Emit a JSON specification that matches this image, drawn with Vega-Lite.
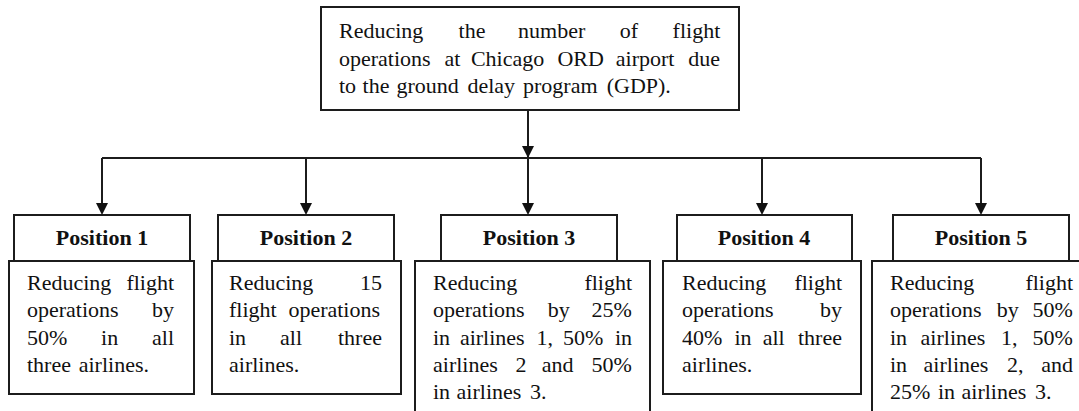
{
  "$schema": "https://vega.github.io/schema/vega-lite/v6.json",
  "width": 1079,
  "height": 411,
  "padding": 0,
  "autosize": {"type": "fit", "contains": "padding"},
  "background": "white",
  "config": {"view": {"stroke": null}},
  "datasets": {
    "links": [
      {"x": 528, "y": 110, "x2": 528, "y2": 158},
      {"x": 102, "y": 158, "x2": 981, "y2": 158},
      {"x": 102, "y": 158, "x2": 102, "y2": 213},
      {"x": 306, "y": 158, "x2": 306, "y2": 213},
      {"x": 528, "y": 158, "x2": 528, "y2": 213},
      {"x": 762, "y": 158, "x2": 762, "y2": 213},
      {"x": 981, "y": 158, "x2": 981, "y2": 213}
    ],
    "arrows": [
      {"x": 528, "y": 158},
      {"x": 102, "y": 215},
      {"x": 306, "y": 215},
      {"x": 528, "y": 215},
      {"x": 762, "y": 215},
      {"x": 981, "y": 215}
    ],
    "boxes": [
      {"name": "goal", "x": 321, "x2": 739, "y": 7, "y2": 110},
      {"name": "body1", "x": 9, "x2": 194, "y": 261, "y2": 394},
      {"name": "body2", "x": 212, "x2": 401, "y": 261, "y2": 394},
      {"name": "body3", "x": 415, "x2": 650, "y": 261, "y2": 425},
      {"name": "body4", "x": 663, "x2": 861, "y": 261, "y2": 394},
      {"name": "body5", "x": 872, "x2": 1092, "y": 261, "y2": 425},
      {"name": "head1", "x": 14, "x2": 190, "y": 215, "y2": 261},
      {"name": "head2", "x": 218, "x2": 394, "y": 215, "y2": 261},
      {"name": "head3", "x": 441, "x2": 617, "y": 215, "y2": 261},
      {"name": "head4", "x": 677, "x2": 852, "y": 215, "y2": 261},
      {"name": "head5", "x": 893, "x2": 1069, "y": 215, "y2": 261}
    ],
    "headers": [
      {"t": "Position 1", "x": 102, "y": 244.5},
      {"t": "Position 2", "x": 306, "y": 244.5},
      {"t": "Position 3", "x": 529, "y": 244.5},
      {"t": "Position 4", "x": 764, "y": 244.5},
      {"t": "Position 5", "x": 981, "y": 244.5}
    ],
    "words": [
      {"t": "Reducing", "x": 339, "y": 38.3},
      {"t": "the", "x": 458.6, "y": 38.3},
      {"t": "number", "x": 518.1, "y": 38.3},
      {"t": "of", "x": 619.8, "y": 38.3},
      {"t": "flight", "x": 672.6, "y": 38.3},
      {"t": "operations", "x": 339, "y": 65.5},
      {"t": "at", "x": 444.6, "y": 65.5},
      {"t": "Chicago", "x": 470.9, "y": 65.5},
      {"t": "ORD", "x": 557.4, "y": 65.5},
      {"t": "airport", "x": 615.8, "y": 65.5},
      {"t": "due", "x": 688.2, "y": 65.5},
      {"t": "to", "x": 339, "y": 92.7},
      {"t": "the", "x": 362.6, "y": 92.7},
      {"t": "ground", "x": 396.5, "y": 92.7},
      {"t": "delay", "x": 467.4, "y": 92.7},
      {"t": "program", "x": 523.0, "y": 92.7},
      {"t": "(GDP).", "x": 606.7, "y": 92.7},
      {"t": "Reducing", "x": 27, "y": 290},
      {"t": "flight", "x": 126.4, "y": 290},
      {"t": "operations", "x": 27, "y": 317.3},
      {"t": "by", "x": 152, "y": 317.3},
      {"t": "50%", "x": 27, "y": 344.6},
      {"t": "in", "x": 101.1, "y": 344.6},
      {"t": "all", "x": 152, "y": 344.6},
      {"t": "three", "x": 27, "y": 371.9},
      {"t": "airlines.", "x": 78.7, "y": 371.9},
      {"t": "Reducing", "x": 229, "y": 290},
      {"t": "15", "x": 360, "y": 290},
      {"t": "flight", "x": 229, "y": 317.3},
      {"t": "operations", "x": 288.4, "y": 317.3},
      {"t": "in", "x": 229, "y": 344.6},
      {"t": "all", "x": 280, "y": 344.6},
      {"t": "three", "x": 338, "y": 344.6},
      {"t": "airlines.", "x": 229, "y": 371.9},
      {"t": "Reducing", "x": 433, "y": 290},
      {"t": "flight", "x": 584.4, "y": 290},
      {"t": "operations", "x": 433, "y": 317.3},
      {"t": "by", "x": 547.8, "y": 317.3},
      {"t": "25%", "x": 591.6, "y": 317.3},
      {"t": "in", "x": 433, "y": 344.6},
      {"t": "airlines", "x": 459.9, "y": 344.6},
      {"t": "1,", "x": 536.6, "y": 344.6},
      {"t": "50%", "x": 562.9, "y": 344.6},
      {"t": "in", "x": 614.9, "y": 344.6},
      {"t": "airlines", "x": 433, "y": 371.9},
      {"t": "2", "x": 515.5, "y": 371.9},
      {"t": "and", "x": 541.8, "y": 371.9},
      {"t": "50%", "x": 591.6, "y": 371.9},
      {"t": "in", "x": 433, "y": 399.2},
      {"t": "airlines", "x": 456.6, "y": 399.2},
      {"t": "3.", "x": 530.1, "y": 399.2},
      {"t": "Reducing", "x": 682, "y": 290},
      {"t": "flight", "x": 794.4, "y": 290},
      {"t": "operations", "x": 682, "y": 317.3},
      {"t": "by", "x": 820, "y": 317.3},
      {"t": "40%", "x": 682, "y": 344.6},
      {"t": "in", "x": 734.5, "y": 344.6},
      {"t": "all", "x": 762.7, "y": 344.6},
      {"t": "three", "x": 798, "y": 344.6},
      {"t": "airlines.", "x": 682, "y": 371.9},
      {"t": "Reducing", "x": 890, "y": 290},
      {"t": "flight", "x": 1025.4, "y": 290},
      {"t": "operations", "x": 890, "y": 317.3},
      {"t": "by", "x": 996.8, "y": 317.3},
      {"t": "50%", "x": 1032.6, "y": 317.3},
      {"t": "in", "x": 890, "y": 344.6},
      {"t": "airlines", "x": 920.6, "y": 344.6},
      {"t": "1,", "x": 1000.9, "y": 344.6},
      {"t": "50%", "x": 1032.6, "y": 344.6},
      {"t": "in", "x": 890, "y": 371.9},
      {"t": "airlines", "x": 923.6, "y": 371.9},
      {"t": "2,", "x": 1006.9, "y": 371.9},
      {"t": "and", "x": 1041.2, "y": 371.9},
      {"t": "25%", "x": 890, "y": 399.2},
      {"t": "in", "x": 937.9, "y": 399.2},
      {"t": "airlines", "x": 961.5, "y": 399.2},
      {"t": "3.", "x": 1035, "y": 399.2}
    ]
  },
  "layer": [
    {
      "data": {"name": "links"},
      "mark": {"type": "rule", "color": "#1c1c1c", "strokeWidth": 2},
      "encoding": {
        "x": {"field": "x", "type": "quantitative", "axis": null, "scale": {"domain": [0, 1079], "nice": false, "zero": false}},
        "x2": {"field": "x2"},
        "y": {"field": "y", "type": "quantitative", "axis": null, "scale": {"domain": [0, 411], "nice": false, "zero": false, "reverse": true}},
        "y2": {"field": "y2"}
      }
    },
    {
      "data": {"name": "boxes"},
      "mark": {"type": "rect", "fill": "white", "stroke": "#1c1c1c", "strokeWidth": 2, "clip": true},
      "encoding": {
        "x": {"field": "x", "type": "quantitative", "axis": null, "scale": {"domain": [0, 1079], "nice": false, "zero": false}},
        "x2": {"field": "x2"},
        "y": {"field": "y", "type": "quantitative", "axis": null, "scale": {"domain": [0, 411], "nice": false, "zero": false, "reverse": true}},
        "y2": {"field": "y2"}
      }
    },
    {
      "data": {"name": "arrows"},
      "mark": {"type": "point", "shape": "M-1,-2L1,-2L0,0Z", "size": 144, "filled": true, "color": "#111", "opacity": 1, "strokeWidth": 0},
      "encoding": {
        "x": {"field": "x", "type": "quantitative", "axis": null, "scale": {"domain": [0, 1079], "nice": false, "zero": false}},
        "y": {"field": "y", "type": "quantitative", "axis": null, "scale": {"domain": [0, 411], "nice": false, "zero": false, "reverse": true}}
      }
    },
    {
      "data": {"name": "headers"},
      "mark": {"type": "text", "align": "center", "baseline": "alphabetic", "font": "Tinos, 'Noto Serif', FreeSerif, 'Nimbus Roman', 'Liberation Serif', 'DejaVu Serif', Georgia, serif", "fontSize": 22, "fontWeight": "bold", "color": "#111"},
      "encoding": {
        "x": {"field": "x", "type": "quantitative", "axis": null, "scale": {"domain": [0, 1079], "nice": false, "zero": false}},
        "y": {"field": "y", "type": "quantitative", "axis": null, "scale": {"domain": [0, 411], "nice": false, "zero": false, "reverse": true}},
        "text": {"field": "t", "type": "nominal"}
      }
    },
    {
      "data": {"name": "words"},
      "mark": {"type": "text", "align": "left", "baseline": "alphabetic", "font": "Tinos, 'Noto Serif', FreeSerif, 'Nimbus Roman', 'Liberation Serif', 'DejaVu Serif', Georgia, serif", "fontSize": 22, "color": "#111"},
      "encoding": {
        "x": {"field": "x", "type": "quantitative", "axis": null, "scale": {"domain": [0, 1079], "nice": false, "zero": false}},
        "y": {"field": "y", "type": "quantitative", "axis": null, "scale": {"domain": [0, 411], "nice": false, "zero": false, "reverse": true}},
        "text": {"field": "t", "type": "nominal"}
      }
    }
  ]
}
